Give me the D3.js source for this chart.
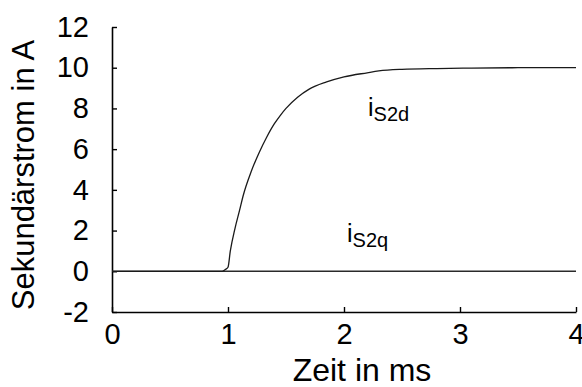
<!DOCTYPE html>
<html>
<head>
<meta charset="utf-8">
<script src="https://cdn.jsdelivr.net/npm/d3@7"></script>
<style>
  html, body { margin: 0; padding: 0; background: #fff; }
  svg { display: block; font-family: "Liberation Sans", Arial, sans-serif; }
</style>
</head>
<body>
<svg id="chart" width="582" height="387"></svg>
<script>
// Secondary current components after switch-on (time in ms, current in A)
const timeD = [0, 0.95, 0.98, 1.0, 1.02, 1.06, 1.1, 1.13, 1.2, 1.27, 1.33, 1.4, 1.45, 1.5, 1.6, 1.7, 1.85, 2.0, 2.2, 2.3, 2.5, 2.8, 3.1, 3.5, 4.0];
const currentD = [0, 0, 0.1, 0.2, 1.0, 2.1, 3.0, 3.7, 4.9, 5.85, 6.55, 7.25, 7.65, 8.0, 8.55, 8.95, 9.3, 9.55, 9.75, 9.84, 9.92, 9.96, 9.98, 10.0, 10.0];
const timeQ = [0, 4];
const currentQ = [0, 0];

const xTicks = [0, 1, 2, 3, 4];
const yTicks = [-2, 0, 2, 4, 6, 8, 10, 12];

const svg = d3.select("#chart");

const x = d3.scaleLinear().domain([0, 4]).range([112, 576]);
const y = d3.scaleLinear().domain([-2, 12]).range([312, 27]);

const tickFont = 29;
const plainNum = d => String(d);   // hyphen-minus, as printed

// Left axis, ticks pointing into the plot
const gy = svg.append("g")
  .attr("transform", `translate(${x(0)},0)`)
  .call(d3.axisLeft(y).tickValues(yTicks).tickFormat(plainNum)
    .tickSizeInner(-5).tickSizeOuter(0).tickPadding(23));

// Bottom axis, ticks pointing into the plot
const gx = svg.append("g")
  .attr("transform", `translate(0,${y(-2)})`)
  .call(d3.axisBottom(x).tickValues(xTicks).tickFormat(plainNum)
    .tickSizeInner(-5).tickSizeOuter(0).tickPadding(11));

[gx, gy].forEach(g => {
  g.select(".domain").attr("stroke", "#000").attr("stroke-width", 1.6);
  g.selectAll(".tick line").attr("stroke", "#000").attr("stroke-width", 1.4);
  g.selectAll(".tick text")
    .attr("fill", "#000")
    .style("font-family", "'Liberation Sans', Arial, sans-serif")
    .style("font-size", tickFont + "px");
});

// q-axis component: flat at zero
const line = d3.line().x(d => x(d[0])).y(d => y(d[1]));
svg.append("path")
  .datum(d3.zip(timeQ, currentQ))
  .attr("fill", "none")
  .attr("stroke", "#2a2a2a")
  .attr("stroke-width", 1.6)
  .attr("d", line);

// d-axis component: rise after 1 ms
svg.append("path")
  .datum(d3.zip(timeD, currentD))
  .attr("fill", "none")
  .attr("stroke", "#1a1a1a")
  .attr("stroke-width", 1.3)
  .attr("d", line.curve(d3.curveMonotoneX));

// Series labels with subscripts
function seriesLabel(px, py, sub) {
  const t = svg.append("text")
    .attr("x", px).attr("y", py)
    .attr("fill", "#000")
    .style("font-size", "25px");
  t.append("tspan").text("i");
  t.append("tspan").attr("dy", 5).style("font-size", "20px").text(sub);
}
seriesLabel(368, 116, "S2d");
seriesLabel(347, 242, "S2q");

// Axis titles
svg.append("text")
  .attr("x", 362).attr("y", 381)
  .attr("text-anchor", "middle")
  .attr("fill", "#000")
  .style("font-size", "32px")
  .text("Zeit in ms");

svg.append("text")
  .attr("transform", "translate(34,175) rotate(-90)")
  .attr("text-anchor", "middle")
  .attr("fill", "#000")
  .style("font-size", "31px")
  .text("Sekundärstrom in A");
</script>
</body>
</html>
